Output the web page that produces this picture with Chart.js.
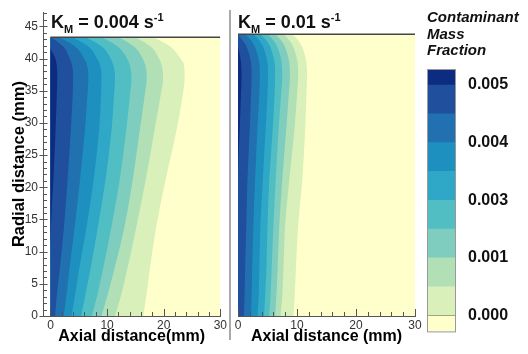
<!DOCTYPE html>
<html>
<head>
<meta charset="utf-8">
<script src="https://cdn.jsdelivr.net/npm/chart.js@4"></script>
<style>
  body { margin: 0; background: #fff; width: 528px; height: 354px; overflow: hidden; position: relative;
         font-family: "Liberation Sans", Arial, sans-serif; }
  .box { position: absolute; top: 0; height: 354px; }
  .km { position: absolute; top: 12px; font-weight: bold; font-size: 18px; line-height: 20px; color: #111; white-space: nowrap; }
  .km sub, .km sup { font-size: 11px; line-height: 0; }
  .km sub { vertical-align: -5px; }
  .km sup { vertical-align: 7px; }
  .sep { position: absolute; left: 229px; top: 10px; width: 2px; height: 330px; background: #aaa; }
  .legend-title { position: absolute; left: 427px; top: 9px; font: italic bold 15px/16.5px "Liberation Sans", Arial, sans-serif; color: #111; }
</style>
</head>
<body>
<div class="box" style="left:0;width:229px"><canvas id="slow"></canvas></div>
<div class="box" style="left:229px;width:195px"><canvas id="fast"></canvas></div>
<div class="box" style="left:427px;width:101px"><canvas id="bar"></canvas></div>
<div class="sep"></div>
<div class="km" style="left:51px">K<sub>M</sub> = 0.004 s<sup>-1</sup></div>
<div class="km" style="left:238px">K<sub>M</sub> = 0.01 s<sup>-1</sup></div>
<div class="legend-title">Contaminant<br>Mass<br>Fraction</div>
<script>
// radial stations (mm) where each contour edge was read, and the wall
const radial = [0, 3, 7, 14, 21, 29, 34, 37, 39, 40.2, 41.7, 42.7, 43.3];
const wallR = 43.3;

// K_M = 0.004 s-1 : axial position (mm) of each contour edge, darkest level first
const slowL9 = [0, 0, 0, 0.1, 0.5, 0.9, 1.1, 1.2, 1.1, 0.8, 0, 0, 0];
const slowL8 = [0.8, 1.1, 1.6, 2.4, 3.0, 3.6, 3.9, 4.0, 3.8, 3.3, 2.4, 1.1, 0];
const slowL7 = [2.3, 2.8, 3.3, 4.3, 5.2, 6.1, 6.5, 6.7, 6.45, 5.8, 4.6, 2.9, 1.5];
const slowL6 = [3.7, 4.3, 5.0, 6.4, 7.6, 8.6, 8.9, 9.0, 8.75, 8.1, 6.9, 5.2, 3.8];
const slowL5 = [5.4, 6.1, 7.0, 8.4, 9.7, 10.8, 11.2, 11.4, 11.1, 10.5, 9.3, 7.6, 6.2];
const slowL4 = [7.3, 8.2, 9.2, 10.8, 12.2, 13.4, 14.0, 14.3, 14.0, 13.4, 12.1, 10.4, 9.0];
const slowL3 = [9.0, 10.0, 11.2, 13.1, 14.5, 15.8, 16.6, 17.0, 16.75, 16.15, 14.95, 13.35, 12.0];
const slowL2 = [11.4, 12.4, 13.5, 15.2, 16.8, 18.4, 19.4, 19.9, 19.65, 19.05, 17.9, 16.3, 15.0];
const slowL1 = [16.4, 16.9, 17.5, 18.7, 20.3, 22.3, 23.3, 23.7, 23.6, 22.8, 21.4, 19.6, 18.1];

// K_M = 0.01 s-1
const fastL9 = [0, 0, 0, 0, 0, 0.3, 0.5, 0.6, 0.5, 0.3, 0, 0, 0];
const fastL8 = [1.0, 1.1, 1.2, 1.4, 1.6, 2.0, 2.2, 2.3, 2.2, 1.9, 1.3, 0.5, 0];
const fastL7 = [2.2, 2.3, 2.4, 2.6, 2.9, 3.3, 3.6, 3.7, 3.6, 3.3, 2.7, 1.9, 1.2];
const fastL6 = [3.3, 3.5, 3.6, 3.8, 4.2, 4.7, 5.0, 5.1, 5.0, 4.7, 4.1, 3.3, 2.6];
const fastL5 = [4.4, 4.6, 4.8, 5.0, 5.3, 5.9, 6.2, 6.3, 6.2, 5.9, 5.3, 4.5, 3.8];
const fastL4 = [5.3, 5.5, 5.7, 6.0, 6.4, 6.9, 7.3, 7.5, 7.4, 7.1, 6.5, 5.7, 5.0];
const fastL3 = [6.3, 6.5, 6.7, 7.0, 7.5, 8.2, 8.6, 8.8, 8.7, 8.4, 7.8, 7.0, 6.3];
const fastL2 = [7.2, 7.5, 7.7, 8.0, 8.7, 9.6, 10.0, 10.2, 10.1, 9.8, 9.2, 8.4, 7.7];
const fastL1 = [9.4, 9.6, 9.8, 10.2, 10.9, 11.4, 11.6, 11.7, 11.6, 11.3, 10.7, 9.9, 9.2];

// axis ticks
const xTickValues = [0, 10, 20, 30];
const yTickValues = [0, 5, 10, 15, 20, 25, 30, 35, 40, 45];

// colour bar
const bandEdges = [-0.55, 0, 1, 2, 3, 4, 5, 6, 7, 8, 8.52];
const barTickValues = [0, 2, 4, 6, 8];
const barTickLabels = ['0.000', '0.001', '0.003', '0.004', '0.005'];

const levelColors = ['#0D2B80', '#1F4F9D', '#2170AF', '#1E90C0', '#2FA7C7', '#51BEC3', '#7ECDBF', '#B2E0B6', '#D9F0BB'];
const bgColor = '#FFFFCC';
const bandColors = [bgColor].concat(levelColors.slice().reverse());

Chart.defaults.font.family = '"Liberation Sans", Arial, sans-serif';
Chart.defaults.animation = false;

const tickMarks = {
  id: 'tickMarks',
  afterDraw(chart, args, opts) {
    const { ctx, chartArea } = chart;
    const x = chart.scales.x, y = chart.scales.y;
    ctx.save();
    ctx.strokeStyle = '#555';
    ctx.lineWidth = 1;
    ctx.beginPath();
    for (let v = 0; v <= 30; v += 2) {
      const px = Math.round(x.getPixelForValue(v)) + 0.5;
      const len = v % 10 === 0 ? 7 : 4;
      ctx.moveTo(px, chartArea.bottom);
      ctx.lineTo(px, chartArea.bottom - len);
    }
    if (opts.yTicks) {
      const ax = chartArea.left + 0.5;
      for (let v = 0; v <= 47; v++) {
        const py = Math.round(y.getPixelForValue(v)) + 0.5;
        if (v % 5 === 0) { ctx.moveTo(ax - 4, py); ctx.lineTo(ax + 4, py); }
        else { ctx.moveTo(ax, py); ctx.lineTo(ax + 3.5, py); }
      }
    }
    ctx.stroke();
    ctx.restore();
  }
};

function panelDatasets(levels) {
  const sets = [{
    data: [{ x: 0, y: wallR }, { x: 30, y: wallR }],
    borderColor: '#444', borderWidth: 1.5, pointRadius: 0, fill: false, tension: 0
  }];
  levels.forEach((xs, i) => {
    sets.push({
      data: radial.map((r, j) => ({ x: xs[j], y: r })),
      backgroundColor: levelColors[i], borderWidth: 0, pointRadius: 0,
      fill: 'origin', cubicInterpolationMode: 'monotone'
    });
  });
  sets.push({
    data: [{ x: 30, y: 0 }, { x: 30, y: wallR }],
    backgroundColor: bgColor, borderWidth: 0, pointRadius: 0, fill: 'origin', tension: 0
  });
  return sets;
}

function panel(id, levels, xMin, showY, xTitle, pad) {
  return new Chart(document.getElementById(id), {
    type: 'line',
    data: { datasets: panelDatasets(levels) },
    options: {
      indexAxis: 'y',
      responsive: true,
      maintainAspectRatio: false,
      layout: { padding: pad },
      plugins: { legend: { display: false }, tooltip: { enabled: false }, tickMarks: { yTicks: showY } },
      scales: {
        x: {
          type: 'linear', min: xMin, max: 30,
          afterBuildTicks: s => { s.ticks = xTickValues.map(v => ({ value: v })); },
          afterFit: s => { s.height = 38; },
          grid: { display: false, drawTicks: false },
          border: { display: true, color: '#555', width: 1 },
          ticks: { color: '#333', font: { size: 12 }, padding: 2, maxRotation: 0 },
          title: { display: true, text: xTitle, color: '#000', font: { size: 16, weight: 'bold' }, padding: { top: 0, bottom: 8 } }
        },
        y: {
          type: 'linear', min: 0, max: 47.2,
          display: showY,
          afterBuildTicks: s => { s.ticks = yTickValues.map(v => ({ value: v })); },
          afterFit: s => { if (showY) s.width = 43; },
          grid: { display: false, drawTicks: false },
          border: { display: true, color: '#555', width: 1 },
          ticks: { color: '#333', font: { size: 12 }, padding: 5 },
          title: { display: true, text: 'Radial distance (mm)', color: '#000', font: { size: 16.5, weight: 'bold' }, padding: { top: 10, bottom: 0 } }
        }
      }
    },
    plugins: [tickMarks]
  });
}

panel('slow', [slowL9, slowL8, slowL7, slowL6, slowL5, slowL4, slowL3, slowL2, slowL1], -1.32, true,
      'Axial distance(mm)', { top: 9, right: 8, left: 0, bottom: 0 });
panel('fast', [fastL9, fastL8, fastL7, fastL6, fastL5, fastL4, fastL3, fastL2, fastL1], 0, false,
      'Axial distance (mm)', { top: 9, right: 9, left: 9, bottom: 0 });

const barOutline = {
  id: 'barOutline',
  afterDraw(chart) {
    const { ctx, chartArea: a } = chart;
    ctx.save();
    ctx.strokeStyle = '#999';
    ctx.lineWidth = 1;
    ctx.strokeRect(a.left - 0.5, a.top - 0.5, a.right - a.left + 1, a.bottom - a.top + 1);
    ctx.restore();
  }
};

new Chart(document.getElementById('bar'), {
  type: 'bar',
  data: {
    labels: [''],
    datasets: bandColors.map((c, i) => ({
      data: [[bandEdges[i], bandEdges[i + 1]]],
      backgroundColor: c, borderWidth: 0,
      barPercentage: 1, categoryPercentage: 1, grouped: false
    }))
  },
  options: {
    responsive: true,
    maintainAspectRatio: false,
    layout: { padding: { top: 70, bottom: 21, left: 1, right: 0 } },
    plugins: { legend: { display: false }, tooltip: { enabled: false } },
    scales: {
      x: { display: false },
      y: {
        position: 'right', min: bandEdges[0], max: bandEdges[bandEdges.length - 1],
        afterBuildTicks: s => { s.ticks = barTickValues.map(v => ({ value: v })); },
        afterFit: s => { s.width = 73; },
        ticks: { callback: (v, i) => barTickLabels[i], color: '#111', font: { size: 16, weight: 'bold' }, padding: 13 },
        grid: { color: '#222', drawTicks: false },
        border: { display: false },
        z: 1
      }
    }
  },
  plugins: [barOutline]
});
</script>
</body>
</html>
